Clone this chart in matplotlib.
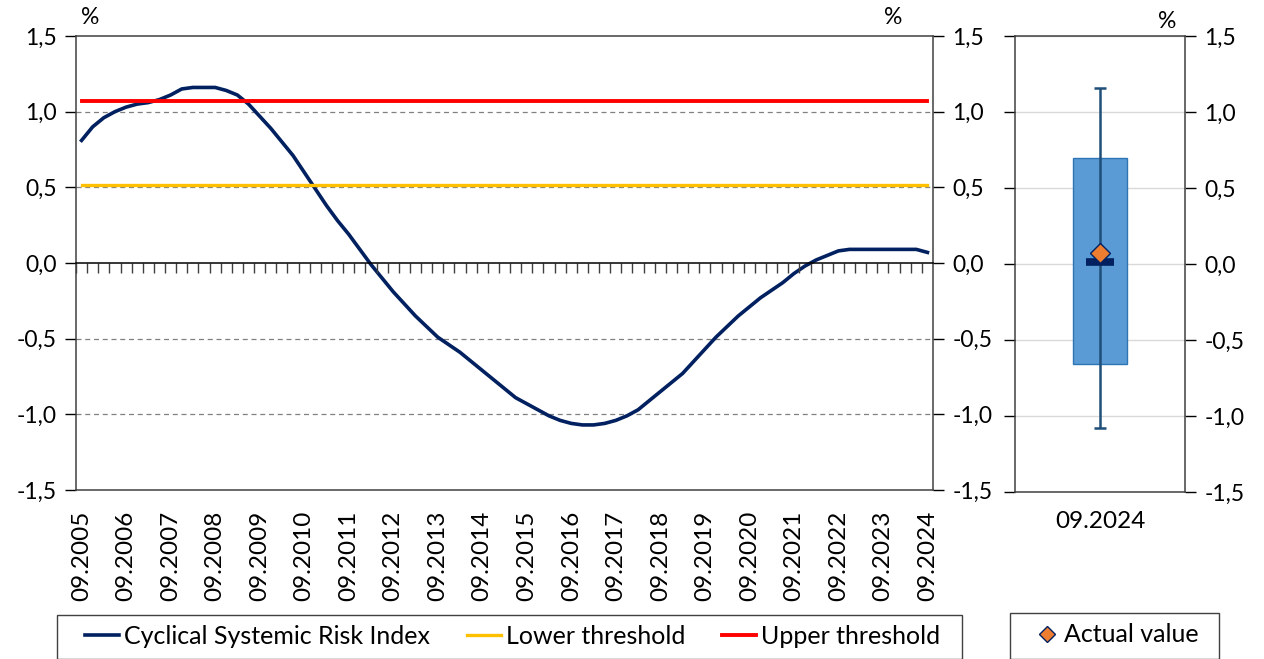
import matplotlib
matplotlib.use("Agg")
import matplotlib.pyplot as plt
import matplotlib.patches as patches
import numpy as np
import pandas as pd
from matplotlib.ticker import FuncFormatter, MultipleLocator

plt.rcParams["font.family"] = ["Lato", "DejaVu Sans"]

# quarterly observations, 09.2005 .. 09.2024
quarters = list(pd.date_range("2005-09-30", "2024-09-30", freq="QE").strftime("%m.%Y"))
csri = [0.81, 0.90, 0.96, 1.00, 1.03, 1.05, 1.06, 1.08, 1.11, 1.15,
        1.16, 1.16, 1.16, 1.14, 1.11, 1.05, 0.97, 0.89, 0.80, 0.71,
        0.60, 0.49, 0.38, 0.28, 0.19, 0.09, -0.01, -0.10, -0.19, -0.27,
        -0.35, -0.42, -0.49, -0.54, -0.59, -0.65, -0.71, -0.77, -0.83, -0.89,
        -0.93, -0.97, -1.01, -1.04, -1.06, -1.07, -1.07, -1.06, -1.04, -1.01,
        -0.97, -0.91, -0.85, -0.79, -0.73, -0.65, -0.57, -0.49, -0.42, -0.35,
        -0.29, -0.23, -0.18, -0.13, -0.07, -0.02, 0.02, 0.05, 0.08, 0.09,
        0.09, 0.09, 0.09, 0.09, 0.09, 0.09, 0.07]
lower_threshold = 0.515
upper_threshold = 1.07

# distribution panel for 09.2024
dist_label = "09.2024"
box_low, box_high = -0.66, 0.70
whisker_low, whisker_high = -1.08, 1.16
median = 0.01
actual = 0.07

navy = "#002060"
spine_c = "#404040"
fs_tick = 16.5
fs_text = 17.5
W, H = 1264, 659
comma = FuncFormatter(lambda v, p: f"{v:.1f}".replace(".", ","))

fig = plt.figure(figsize=(W / 100, H / 100), dpi=100)

# ---- left: index time series ----
rect = [76 / W, 1 - 490 / H, 857 / W, 454 / H]
ax = fig.add_axes(rect)
x = np.arange(len(quarters))
for v in (-1.0, -0.5, 0.5, 1.0):
    ax.axhline(v, color="#808080", lw=0.9, ls=(0, (4, 3)), zorder=1)
ax.plot(x, csri, color=navy, lw=2.6, zorder=3, label="Cyclical Systemic Risk Index")
ax.plot(x, [lower_threshold] * len(x), color="#FFC000", lw=2.4, zorder=3, label="Lower threshold")
ax.plot(x, [upper_threshold] * len(x), color="#FF0000", lw=2.8, zorder=4, label="Upper threshold")

ax.set_xlim(-0.5, len(x) - 0.5)
ax.set_ylim(-1.5, 1.5)
ax.yaxis.set_major_locator(MultipleLocator(0.5))
ax.yaxis.set_major_formatter(comma)
ax.set_xticks(x[::4], [quarters[i] for i in x[::4]])
ax.tick_params(axis="x", length=0, rotation=90, labelsize=fs_text, pad=15)
ax.tick_params(axis="y", length=8, width=1, labelsize=fs_tick, right=True, labelright=True, pad=6)
for s in ax.spines.values():
    s.set_color(spine_c)
    s.set_linewidth(1.1)

# zero line with quarterly tick marks
ax0 = fig.add_axes(rect)
ax0.patch.set_visible(False)
ax0.set_xlim(ax.get_xlim())
ax0.set_ylim(-1.5, 1.5)
ax0.set_yticks([])
for side in ("top", "left", "right"):
    ax0.spines[side].set_visible(False)
ax0.spines["bottom"].set_position(("data", 0))
ax0.spines["bottom"].set_color("black")
ax0.spines["bottom"].set_linewidth(1.1)
ax0.set_xticks(x - 0.5)
ax0.tick_params(axis="x", length=7, width=1, color=spine_c, direction="out", labelbottom=False)

fig.text(90 / W, 1 - 18 / H, "%", fontsize=fs_tick, ha="center", va="center")
fig.text(893 / W, 1 - 18 / H, "%", fontsize=fs_tick, ha="center", va="center")

# ---- right: distribution box ----
bx = fig.add_axes([1015 / W, 1 - 492 / H, 170 / W, 456 / H])
bx.set_xlim(-0.5, 0.5)
bx.set_ylim(-1.5, 1.5)
bx.yaxis.set_major_locator(MultipleLocator(0.5))
bx.yaxis.set_major_formatter(comma)
bx.grid(axis="y", color="#D9D9D9", lw=1)
bx.set_axisbelow(True)
bx.bar(0, box_high - box_low, bottom=box_low, width=0.32, color="#5B9BD5",
       edgecolor="#2E75B6", lw=1, zorder=2)
bx.errorbar(0, (whisker_low + whisker_high) / 2, yerr=(whisker_high - whisker_low) / 2,
            fmt="none", ecolor="#1F4E79", elinewidth=1.8, capsize=4, capthick=1.8, zorder=3)
bx.hlines(median, -0.085, 0.085, color=navy, lw=5.5, zorder=4)
bx.plot(0, actual, marker="D", ms=10, color="#ED7D31", mec=navy, mew=1, ls="none",
        zorder=5, label="Actual value")
bx.set_xticks([0], [dist_label])
bx.tick_params(axis="x", length=0, labelsize=fs_text, pad=14)
bx.tick_params(axis="y", length=8, width=1, labelsize=fs_tick, labelleft=False,
               right=True, labelright=True, pad=6)
for s in bx.spines.values():
    s.set_color(spine_c)
    s.set_linewidth(1.1)
fig.text(1167 / W, 1 - 22 / H, "%", fontsize=fs_tick, ha="center", va="center")

# ---- legends ----
frame1 = patches.Rectangle((57 / W, 0), 905 / W, 1 - 615 / H, transform=fig.transFigure,
                           fill=False, edgecolor=spine_c, lw=1)
fig.patches.append(frame1)
h1, l1 = ax.get_legend_handles_labels()
fig.legend(h1, l1, loc="center left", bbox_to_anchor=(85 / W, 1 - 636 / H, 855 / W, 0),
           mode="expand", ncol=3, fontsize=fs_text + 0.5, frameon=False,
           handlelength=1.35, handletextpad=0.2, borderaxespad=0, borderpad=0)

frame2 = patches.Rectangle((1010 / W, 0), 209 / W, 1 - 613 / H, transform=fig.transFigure,
                           fill=False, edgecolor=spine_c, lw=1)
fig.patches.append(frame2)
h2, l2 = bx.get_legend_handles_labels()
fig.legend(h2, l2, loc="center left", bbox_to_anchor=(1034 / W, 1 - 635 / H),
           fontsize=fs_text + 0.5, frameon=False, handlelength=1.0, handletextpad=0.2,
           borderaxespad=0, borderpad=0, markerscale=0.8)

fig.savefig("out.png", dpi=100)
